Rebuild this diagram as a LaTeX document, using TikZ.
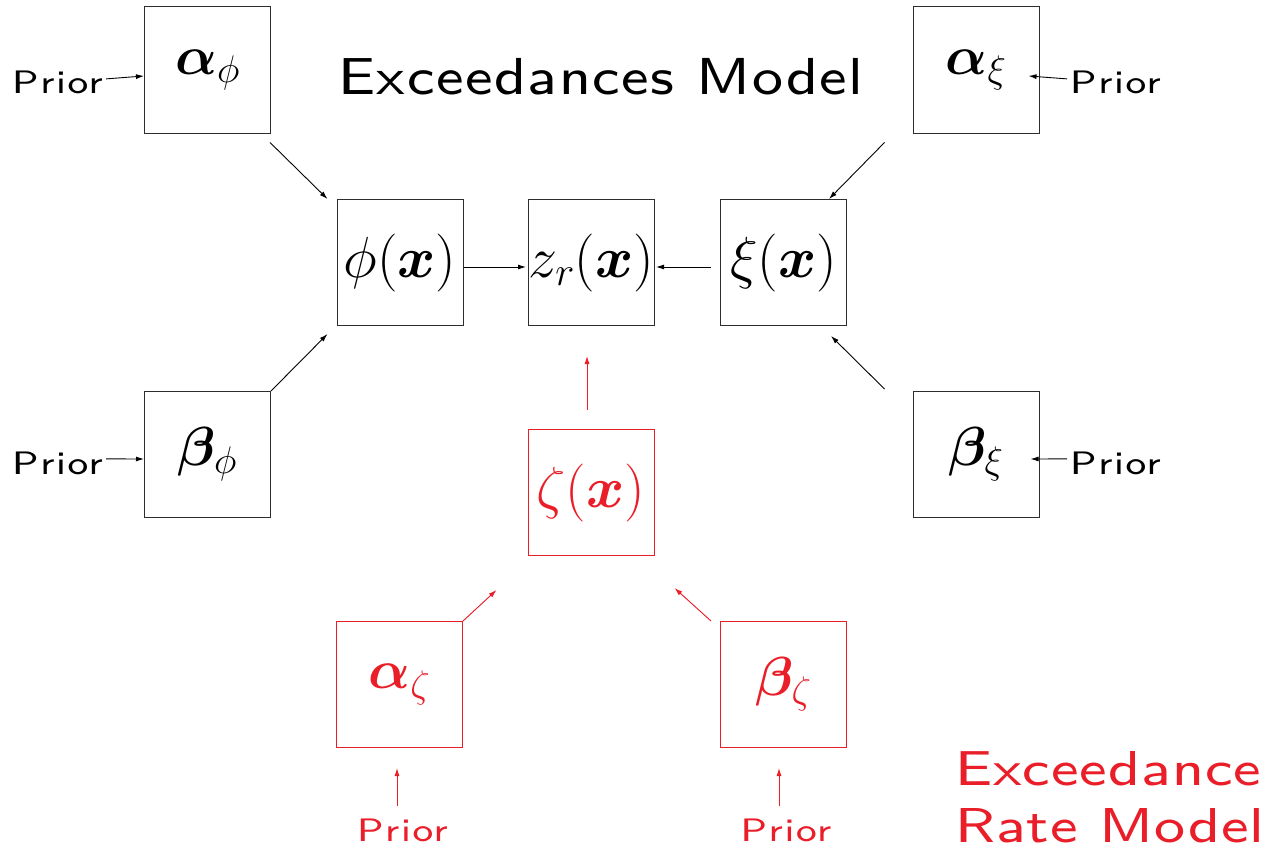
\RequirePackage{fix-cm}
\documentclass[tikz,border=0pt]{standalone}
\usepackage{amsmath,bm}
\usepackage{fontspec}
\newfontfamily\priorfont{lmsans8-regular.otf}[FakeStretch=1.2,LetterSpace=5]
\newfontfamily\titlefont{lmsans8-regular.otf}[FakeStretch=1.12,LetterSpace=3]
\newfontfamily\rmodelfont{lmsans8-regular.otf}[FakeStretch=1.19,LetterSpace=2]
\usetikzlibrary{arrows.meta}
\definecolor{myred}{RGB}{234,30,40}
\definecolor{boxgray}{RGB}{45,45,45}
\tikzset{
  varbox/.style={draw=boxgray, line width=1pt, minimum width=126pt, minimum height=126pt, inner sep=0pt,
    font=\fontsize{55}{66}\selectfont},
  fnbox/.style={varbox, font=\fontsize{58}{68}\selectfont},
  redbox/.style={varbox, draw=myred, text=myred},
  prior/.style={inner sep=0pt, font=\fontsize{32.5}{38}\selectfont\priorfont},
  rmodel/.style={inner sep=0pt, anchor=base west, text=myred, font=\fontsize{49}{57}\selectfont\rmodelfont},
  arr/.style={-{Latex[length=8pt,width=5pt]}, line width=0.9pt, draw=black},
  rarr/.style={arr, draw=myred, fill=myred},
}
\begin{document}
\begin{tikzpicture}[x=1pt,y=-1pt]
\useasboundingbox[fill=white] (0,0) rectangle (1273,848);

% boxes
\node[varbox] (aphi) at (207.5,70) {$\boldsymbol{\alpha}_{\phi}$};
\node[varbox] (axi) at (976,70) {$\boldsymbol{\alpha}_{\xi}$};
\node[fnbox] (phi) at (400,262.5) {$\phi(\boldsymbol{x})$};
\node[fnbox] (zr) at (591.5,262.5) {$z_r(\boldsymbol{x})$};
\node[fnbox] (xi) at (783.5,262.5) {$\xi(\boldsymbol{x})$};
\node[varbox] (bphi) at (207.5,454.5) {$\boldsymbol{\beta}_{\phi}$};
\node[varbox] (bxi) at (976,454.5) {$\boldsymbol{\beta}_{\xi}$};
\node[fnbox, draw=myred, text=myred] (zeta) at (591,492.5) {$\zeta(\boldsymbol{x})$};
\node[redbox] (azeta) at (399.5,684.5) {$\boldsymbol{\alpha}_{\zeta}$};
\node[redbox] (bzeta) at (783.5,684.5) {$\boldsymbol{\beta}_{\zeta}$};

% titles
\node[inner sep=0pt, anchor=base, font=\fontsize{52}{60}\selectfont\titlefont] (title) at (601,95) {Exceedances Model};
\node[rmodel] (rm1) at (955,785) {Exceedance};
\node[rmodel] (rm2) at (955,842) {Rate Model};

% prior labels
\node[prior, anchor=base west] (p1) at (12,94) {Prior};
\node[prior, anchor=base west] (p2) at (1070,94) {Prior};
\node[prior, anchor=base west] (p3) at (12,474) {Prior};
\node[prior, anchor=base west] (p4) at (1070,474) {Prior};
\node[prior, anchor=base, text=myred] (p5) at (402.5,841) {Prior};
\node[prior, anchor=base, text=myred] (p6) at (786,841) {Prior};

% prior arrows
\draw[arr] ([xshift=3pt,yshift=4pt]p1.east) -- ([yshift=-6pt]aphi.west);
\draw[arr] ([xshift=-3pt,yshift=4pt]p2.west) -- ([xshift=-11pt,yshift=-6pt]axi.east);
\draw[arr] ([xshift=3pt,yshift=4pt]p3.east) -- ([yshift=-4.5pt]bphi.west);
\draw[arr] ([xshift=-3pt,yshift=4pt]p4.west) -- ([xshift=-9pt,yshift=-4.5pt]bxi.east);
\draw[rarr] ([xshift=-5.5pt,yshift=12pt]p5.north) -- ([xshift=-2.5pt,yshift=-20pt]azeta.south);
\draw[rarr] ([xshift=-7pt,yshift=12pt]p6.north) -- ([xshift=-4.5pt,yshift=-20pt]bzeta.south);

% model arrows
\draw[arr] ([xshift=-1pt,yshift=-9pt]aphi.south east) -- ([xshift=-9pt]phi.north west);
\draw[arr] (bphi.north east) -- ([xshift=-9pt,yshift=-8pt]phi.south west);
\draw[arr] ([xshift=-28pt,yshift=-9pt]axi.south west) -- ([xshift=-18pt]xi.north east);
\draw[arr] ([xshift=-28pt,yshift=2pt]bxi.north west) -- ([xshift=-16pt,yshift=-10pt]xi.south east);
\draw[arr] ([yshift=-4.5pt]phi.east) -- ([xshift=-2pt,yshift=-4.5pt]zr.west);
\draw[arr] ([xshift=-9pt,yshift=-4.5pt]xi.west) -- ([xshift=1pt,yshift=-4.5pt]zr.east);
\draw[rarr] ([xshift=-4pt,yshift=19pt]zeta.north) -- ([xshift=-4.5pt,yshift=-30pt]zr.south);
\draw[rarr] (azeta.north east) -- ([xshift=-31pt,yshift=-34pt]zeta.south west);
\draw[rarr] ([xshift=-9pt]bzeta.north west) -- ([xshift=20pt,yshift=-32pt]zeta.south east);
\end{tikzpicture}
\end{document}
